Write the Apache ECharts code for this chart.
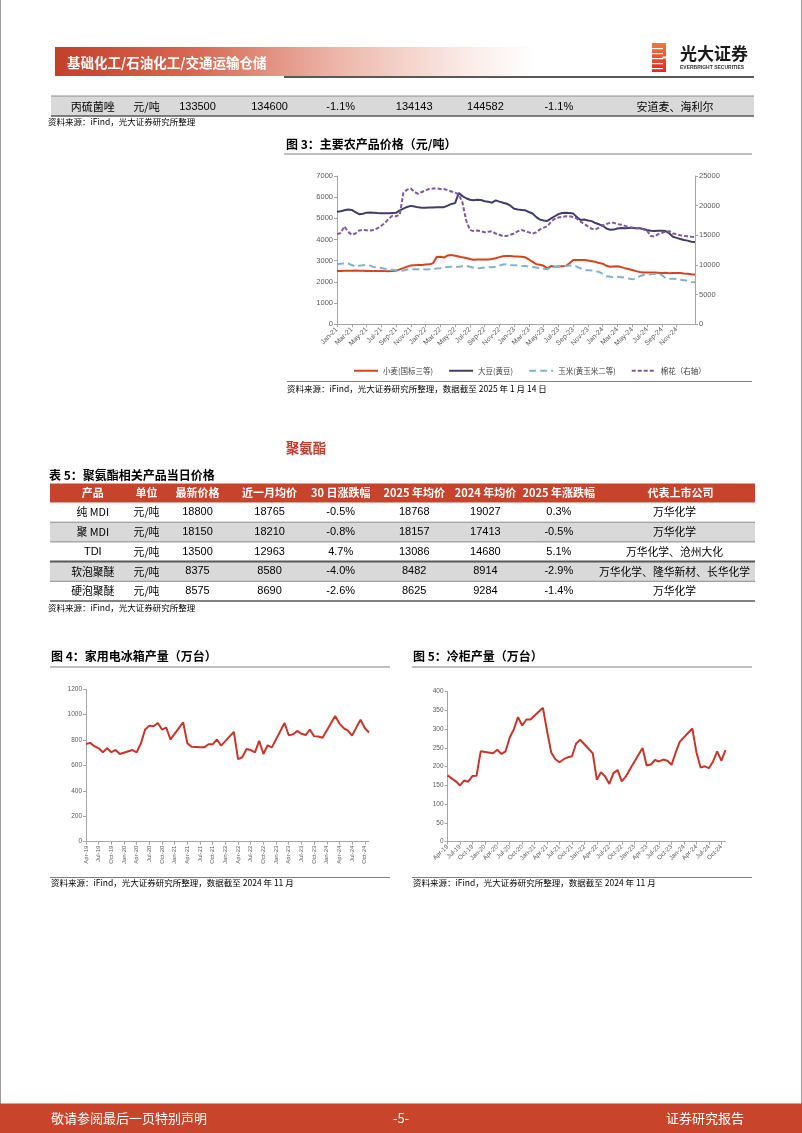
<!DOCTYPE html>
<html><head><meta charset="utf-8">
<script src="https://cdn.jsdelivr.net/npm/echarts@6/dist/echarts.min.js"></script>
<style>html,body{margin:0;padding:0;background:#fff;}#c{width:802px;height:1133px;}</style>
</head><body><div id="c"></div>
<script>
// ---------- DATA ----------
const MONTHS = ['Jan','Feb','Mar','Apr','May','Jun','Jul','Aug','Sep','Oct','Nov','Dec'];
// Fig 3 categories: semi-monthly dates Jan-2021 .. 14-Jan-2025
const fig3Dates = [];
for (let y = 2021; y <= 2024; y++) for (let mo = 1; mo <= 12; mo++) {
  const mm = String(mo).padStart(2, '0');
  fig3Dates.push(y + '-' + mm + '-01', y + '-' + mm + '-16');
}
fig3Dates.push('2025-01-01', '2025-01-14');

const wheat = [2520,2520,2530,2530,2530,2540,2530,2530, 2520,2520,2510,2510,2520,2510,2500,2510,
  2530,2590,2650,2720,2780,2790,2800,2800, 2820,2830,2880,3180,3190,3150,3250,3270,
  3240,3200,3160,3130,3080,3050,3060,3060, 3060,3060,3080,3120,3170,3210,3220,3220,
  3200,3200,3190,3160,3060,2950,2840,2810, 2760,2640,2750,2720,2730,2740,2750,2880,
  3030,3040,3040,3030,3010,2980,2950,2890, 2860,2760,2720,2730,2740,2700,2650,2610,
  2560,2510,2470,2450,2450,2440,2440,2430, 2420,2430,2410,2420,2420,2420,2400,2390,
  2360,2340];
const soybean = [5310,5340,5380,5420,5400,5300,5200,5220, 5270,5280,5270,5250,5240,5240,5240,5250,
  5260,5380,5460,5540,5590,5560,5520,5500, 5500,5510,5510,5520,5520,5530,5600,5680,
  5720,6200,6050,5950,5880,5860,5880,5870, 5810,5790,5740,5850,5790,5740,5690,5600,
  5450,5420,5400,5380,5300,5230,5060,4940, 4900,4880,5000,5100,5200,5250,5260,5250,
  5230,5060,4920,4950,4900,4870,4780,4720, 4650,4520,4460,4470,4520,4540,4530,4550,
  4540,4530,4530,4500,4450,4420,4400,4410, 4420,4400,4300,4130,4080,4030,3980,3950,
  3900,3880];
const corn = [2840,2860,2870,2870,2800,2720,2760,2790, 2800,2770,2700,2680,2660,2620,2590,2570,
  2550,2520,2540,2590,2600,2600,2600,2600, 2590,2600,2610,2630,2650,2680,2710,2720,
  2700,2720,2740,2760,2720,2670,2650,2660, 2680,2690,2690,2720,2770,2820,2840,2800,
  2790,2780,2760,2750,2720,2700,2680,2650, 2620,2600,2680,2720,2730,2740,2750,2770,
  2790,2720,2640,2560,2550,2540,2520,2470, 2380,2270,2240,2230,2240,2220,2200,2160,
  2130,2150,2270,2330,2340,2360,2380,2380, 2330,2180,2150,2150,2140,2100,2080,2050,
  2000,1990];
const cotton = [15200,15400,16500,15600,15100,15300,15800,15900, 15850,15800,15900,16200,16600,17100,17800,18300,
  18200,18500,22200,22700,22900,22300,22000,22300, 22600,22800,22900,22900,22800,22800,22600,22400,
  22200,21900,20500,17500,15900,15700,15800,15700, 15500,15600,15700,15300,15100,14850,14900,15100,
  15300,15700,15900,15700,15500,15300,15500,16000, 16300,16500,17300,17800,18000,18100,18200,18200,
  18100,17800,17300,16900,16500,16100,16000,16300, 16700,16900,17100,17100,16900,16800,16600,16400,
  16300,16200,16200,16000,15800,14900,14800,15200, 15400,15600,15700,15300,15200,15000,14900,14850,
  14750,14700];
const fig3Names = ['小麦(国标三等)', '大豆(黄豆)', '玉米(黄玉米二等)', '棉花（右轴）'];

// Fig 4 / Fig 5: monthly Apr-19 .. Nov-24 (Jan & Feb not published)
const monthLabels = [];
for (let i = 0; i < 68; i++) { const t = 3 + i; monthLabels.push(MONTHS[t % 12] + '-' + String(19 + Math.floor(t / 12))); }
const fridge = [770,778,752,735,705,735,705,722,691,
  null,null,722,704,774,883,914,909,935,883,899,805,
  null,null,940,774,748,746,743,743,767,767,805,756,
  null,null,865,650,665,730,722,704,795,691,759,743,
  null,null,935,838,845,872,850,840,883,830,828,818,
  null,null,990,930,895,875,835,900,960,895,860];
const freezer = [177,169,161,150,163,160,175,176,241,
  null,null,236,245,234,241,278,300,332,310,326,326,
  null,null,357,295,238,220,212,220,225,228,262,272,
  null,null,236,165,185,174,154,183,191,161,174,194,
  null,null,250,203,206,218,214,219,216,205,238,267,
  null,null,302,238,198,201,196,214,241,216,244];

// Tables
const topRow = ['丙硫菌唑','元/吨','133500','134600','-1.1%','134143','144582','-1.1%','安道麦、海利尔'];
const table5Header = ['产品','单位','最新价格','近一月均价','30 日涨跌幅','2025 年均价','2024 年均价','2025 年涨跌幅','代表上市公司'];
const table5Rows = [
  ['纯 MDI','元/吨','18800','18765','-0.5%','18768','19027','0.3%','万华化学'],
  ['聚 MDI','元/吨','18150','18210','-0.8%','18157','17413','-0.5%','万华化学'],
  ['TDI','元/吨','13500','12963','4.7%','13086','14680','5.1%','万华化学、沧州大化'],
  ['软泡聚醚','元/吨','8375','8580','-4.0%','8482','8914','-2.9%','万华化学、隆华新材、长华化学'],
  ['硬泡聚醚','元/吨','8575','8690','-2.6%','8625','9284','-1.4%','万华化学']
];

// ---------- LAYOUT ----------
const CJK = '"Noto Sans CJK SC", "Noto Sans", sans-serif';
const NUM = '"Liberation Sans Narrow", "Liberation Sans", Arial, sans-serif';
const colX = [92.8, 146.5, 197.5, 269.6, 340.7, 414.2, 485.4, 558.8, 674.5];
const RED = '#c8432b';
const G = [];
function txt(x, y, s, font, fill, align) {
  G.push({type:'text', x:x, y:y, silent:true, style:{text:s, font:font, fill:fill||'#000',
    align:align||'left', verticalAlign:'middle', textAlign:align||'left', textVerticalAlign:'middle'}});
}
function rect(x, y, w, h, fill) { G.push({type:'rect', silent:true, shape:{x:x,y:y,width:w,height:h}, style:{fill:fill}}); }
function line(x1, y1, x2, y2, c, w) { G.push({type:'line', silent:true, shape:{x1:x1,y1:y1,x2:x2,y2:y2}, style:{stroke:c, lineWidth:w||1}}); }
function isCJK(s){ return /[\u4e00-\u9fff]/.test(s); }

// page border
line(0.5, 0, 0.5, 1104, '#9a9a9a', 1);
line(801.5, 0, 801.5, 1104, '#9a9a9a', 1);

// header band
G.push({type:'rect', silent:true, shape:{x:55,y:47,width:480,height:29},
  style:{fill:new echarts.graphic.LinearGradient(0,0,1,0,[
    {offset:0,color:'#c43f28'},{offset:0.3,color:'#d86a55'},{offset:0.6,color:'#eeb9ad'},{offset:0.85,color:'#fbeae6'},{offset:1,color:'#ffffff'}])}});
txt(67, 63, '基础化工/石油化工/交通运输仓储', 'bold 13.5px ' + CJK, '#ffffff');
line(284, 77, 754, 77, '#595959', 2);
// logo
G.push({type:'rect', silent:true, shape:{x:652,y:43,width:14,height:29},
  style:{fill:new echarts.graphic.LinearGradient(0,0,0,1,[{offset:0,color:'#f07a3a'},{offset:1,color:'#e3262b'}])}});
[48,53,58,63,68].forEach(function(yy){ rect(652, yy, 11, 1.2, '#ffffff'); });
rect(662.5, 56.5, 4, 2, '#ffffff');
txt(680, 54, '光大证券', 'bold 17px ' + CJK, '#1a1a1a');
txt(680, 67.5, 'EVERBRIGHT SECURITIES', 'bold 5px ' + NUM, '#333333');

// top table row
rect(51, 96, 703, 20, '#d9d9d9');
line(51, 96, 754, 96, '#8c8c8c', 1);
line(51, 116, 754, 116, '#595959', 1.5);
topRow.forEach(function(s, i){ txt(i === 8 ? 675 : colX[i], 106.5, s, (isCJK(s) ? '11px ' + CJK : '11px ' + NUM), '#000', 'center'); });
txt(48, 122, '资料来源：iFind，光大证券研究所整理', '8.5px ' + CJK, '#000');

// Fig 3 title
txt(286, 144, '图 3：主要农产品价格（元/吨）', 'bold 12px ' + CJK, '#000');
line(284, 154, 752, 154, '#7f7f7f', 1);
line(287, 381.5, 752, 381.5, '#7f7f7f', 1);
txt(287, 389, '资料来源：iFind，光大证券研究所整理，数据截至 2025 年 1 月 14 日', '8.5px ' + CJK, '#000');

// Section heading + table 5
txt(306, 448, '聚氨酯', 'bold 13.5px ' + CJK, '#c0392b', 'center');
txt(49, 475, '表 5：聚氨酯相关产品当日价格', 'bold 12px ' + CJK, '#000');
rect(50, 483.5, 705, 19, RED);
table5Header.forEach(function(s, i){ txt(i === 8 ? 680.5 : colX[i], 493, s, 'bold 11px ' + CJK, '#ffffff', 'center'); });
const rowTop = [502.5, 522.2, 541.9, 561.6, 581.3], rowH = 19.7;
table5Rows.forEach(function(r, k){
  if (k % 2 === 1) rect(50, rowTop[k], 705, rowH, '#d9d9d9');
  r.forEach(function(s, i){ txt(colX[i], rowTop[k] + rowH/2, s, (isCJK(s) ? '10.8px ' + CJK : '11px ' + NUM), '#000', 'center'); });
});
line(50, 522.2, 755, 522.2, '#8c8c8c', 1);
line(50, 541.9, 755, 541.9, '#8c8c8c', 1);
line(50, 561.6, 755, 561.6, '#595959', 2);
line(50, 581.3, 755, 581.3, '#8c8c8c', 1);
line(50, 601, 755, 601, '#595959', 1.5);
txt(48, 607.5, '资料来源：iFind，光大证券研究所整理', '8.5px ' + CJK, '#000');

// Fig 4 / 5 titles
txt(51, 656, '图 4：家用电冰箱产量（万台）', 'bold 12px ' + CJK, '#000');
line(50, 667, 390, 667, '#7f7f7f', 1);
line(50, 877.5, 390, 877.5, '#7f7f7f', 1);
txt(51, 883, '资料来源：iFind，光大证券研究所整理，数据截至 2024 年 11 月', '8.5px ' + CJK, '#000');
txt(413, 656, '图 5：冷柜产量（万台）', 'bold 12px ' + CJK, '#000');
line(412, 667, 752, 667, '#7f7f7f', 1);
line(412, 877.5, 752, 877.5, '#7f7f7f', 1);
txt(413, 883, '资料来源：iFind，光大证券研究所整理，数据截至 2024 年 11 月', '8.5px ' + CJK, '#000');

// footer
rect(0, 1103.5, 802, 29.5, '#c8452b');
txt(51, 1118, '敬请参阅最后一页特别声明', '13px ' + CJK, '#ffffff');
txt(401, 1118, '-5-', '13px ' + CJK, '#ffffff', 'center');
txt(744, 1118, '证券研究报告', '13px ' + CJK, '#ffffff', 'right');

// ---------- CHART ----------
const axisGray = '#a6a6a6', labGray = '#595959';
const fig3LabelShow = function(idx){ return idx % 4 === 0 && idx < 96; };
function fmtDate(v){ const p = v.split('-'); return MONTHS[+p[1]-1] + '-' + p[0].slice(2); }
const plain = function(v){ return String(v); };

const chart = echarts.init(document.getElementById('c'), null, {renderer:'canvas', width:802, height:1133});
chart.setOption({
  animation:false,
  backgroundColor:'#ffffff',
  graphic:{elements:G},
  grid:[
    {left:337, top:176, width:358, height:148.3},
    {left:86, top:689.3, width:283, height:152.4},
    {left:447.5, top:691.7, width:278, height:150}
  ],
  legend:{data:fig3Names, left:348, top:362, itemWidth:24, itemHeight:6, itemGap:15,
    itemStyle:{opacity:0},
    textStyle:{fontSize:7.5, color:'#404040', fontFamily:CJK}},
  xAxis:[
    {gridIndex:0, type:'category', data:fig3Dates, boundaryGap:false,
      axisLine:{lineStyle:{color:axisGray}},
      axisTick:{interval:fig3LabelShow, length:3, lineStyle:{color:axisGray}},
      axisLabel:{interval:fig3LabelShow, rotate:45, fontSize:7, color:labGray, margin:4, fontFamily:NUM, formatter:fmtDate}},
    {gridIndex:1, type:'category', data:monthLabels, boundaryGap:false,
      axisLine:{lineStyle:{color:axisGray}},
      axisTick:{interval:2, length:3, lineStyle:{color:axisGray}},
      axisLabel:{interval:2, rotate:90, fontSize:6, color:labGray, margin:4, fontFamily:NUM}},
    {gridIndex:2, type:'category', data:monthLabels, boundaryGap:false,
      axisLine:{lineStyle:{color:axisGray}},
      axisTick:{interval:2, length:3, lineStyle:{color:axisGray}},
      axisLabel:{interval:2, rotate:45, fontSize:6.3, color:labGray, margin:4, fontFamily:NUM}}
  ],
  yAxis:[
    {gridIndex:0, type:'value', min:0, max:7000, interval:1000,
      axisLine:{show:true, lineStyle:{color:axisGray}}, axisTick:{show:true, length:3, lineStyle:{color:axisGray}},
      splitLine:{show:false}, axisLabel:{fontSize:7.5, color:labGray, margin:4, fontFamily:NUM, formatter:plain}},
    {gridIndex:0, type:'value', position:'right', min:0, max:25000, interval:5000,
      axisLine:{show:true, lineStyle:{color:axisGray}}, axisTick:{show:true, length:3, lineStyle:{color:axisGray}},
      splitLine:{show:false}, axisLabel:{fontSize:7.5, color:labGray, margin:4, fontFamily:NUM, formatter:plain}},
    {gridIndex:1, type:'value', min:0, max:1200, interval:200,
      axisLine:{show:true, lineStyle:{color:axisGray}}, axisTick:{show:true, length:3, lineStyle:{color:axisGray}},
      splitLine:{show:false}, axisLabel:{fontSize:6.5, color:labGray, margin:4, fontFamily:NUM, formatter:plain}},
    {gridIndex:2, type:'value', min:0, max:400, interval:50,
      axisLine:{show:true, lineStyle:{color:axisGray}}, axisTick:{show:true, length:3, lineStyle:{color:axisGray}},
      splitLine:{show:false}, axisLabel:{fontSize:6.5, color:labGray, margin:4, fontFamily:NUM, formatter:plain}}
  ],
  series:[
    {name:fig3Names[0], type:'line', xAxisIndex:0, yAxisIndex:0, data:wheat, symbol:'none',
      lineStyle:{color:'#d4431e', width:2}, itemStyle:{color:'#d4431e'}},
    {name:fig3Names[1], type:'line', xAxisIndex:0, yAxisIndex:0, data:soybean, symbol:'none',
      lineStyle:{color:'#403d6b', width:2}, itemStyle:{color:'#403d6b'}},
    {name:fig3Names[2], type:'line', xAxisIndex:0, yAxisIndex:0, data:corn, symbol:'none',
      lineStyle:{color:'#80b3cb', width:2, type:[7,4]}, itemStyle:{color:'#80b3cb'}},
    {name:fig3Names[3], type:'line', xAxisIndex:0, yAxisIndex:1, data:cotton, symbol:'none',
      lineStyle:{color:'#7d5b9c', width:2, type:[4,2]}, itemStyle:{color:'#7d5b9c'}},
    {name:'家用电冰箱产量', type:'line', xAxisIndex:1, yAxisIndex:2, data:fridge, symbol:'none', connectNulls:true,
      lineStyle:{color:'#c8352a', width:2}, itemStyle:{color:'#c8352a'}},
    {name:'冷柜产量', type:'line', xAxisIndex:2, yAxisIndex:3, data:freezer, symbol:'none', connectNulls:true,
      lineStyle:{color:'#c8352a', width:2}, itemStyle:{color:'#c8352a'}}
  ]
});
</script></body></html>
